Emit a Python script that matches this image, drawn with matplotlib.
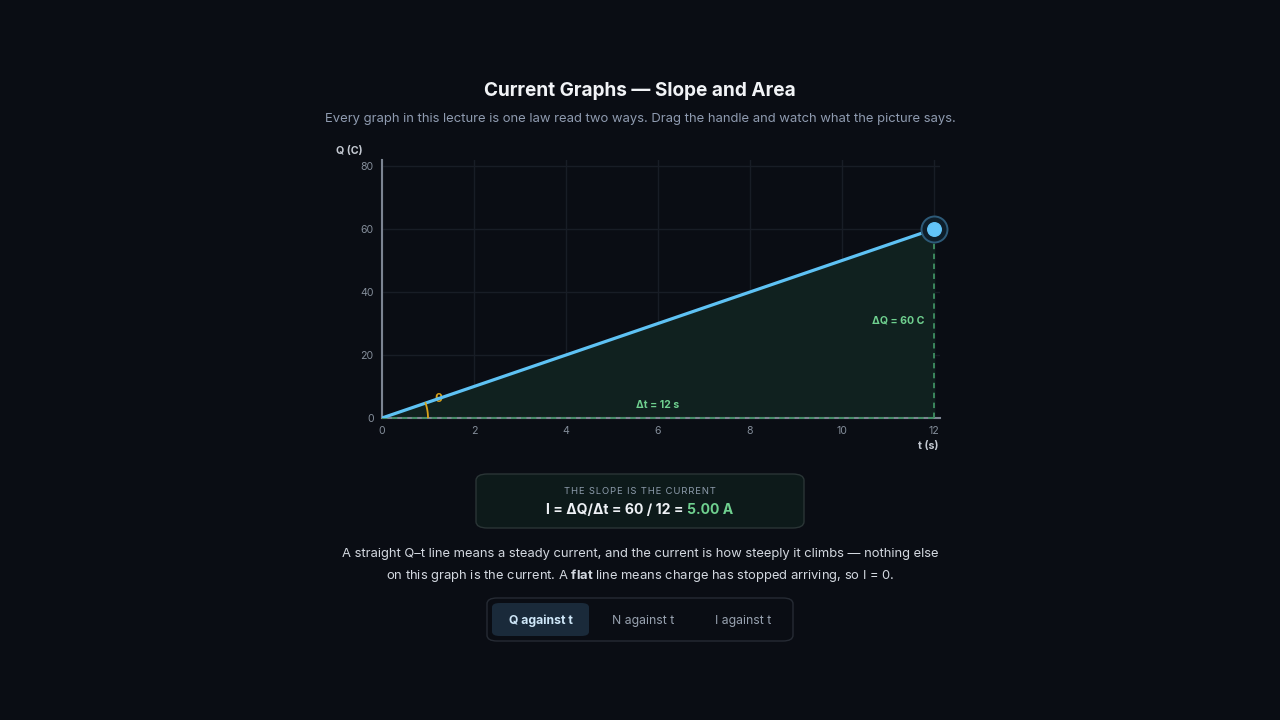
import matplotlib
matplotlib.use("Agg")
import matplotlib.pyplot as plt
from matplotlib.patches import FancyBboxPatch
import numpy as np

plt.rcParams['font.family'] = ['Inter', 'DejaVu Sans']
plt.rcParams['mathtext.fontset'] = 'custom'
plt.rcParams['mathtext.rm'] = 'Inter'
plt.rcParams['mathtext.bf'] = 'Inter:bold'

# ---- data ----
t_vals = [0, 12]
q_vals = [0, 60]
x_ticks = [0, 2, 4, 6, 8, 10, 12]
y_ticks = [0, 20, 40, 60, 80]
tabs = ["Q against t", "N against t", "I against t"]
title = "Current Graphs \u2014 Slope and Area"
subtitle = "Every graph in this lecture is one law read two ways. Drag the handle and watch what the picture says."

BG = "#0a0d14"
W, H = 1280, 720
fig = plt.figure(figsize=(12.8, 7.2), dpi=100, facecolor=BG)

def fx(x):
    return x / W
def fy(y):
    return 1 - y / H

# axes placement (pixels)
L, R, T, B = 382, 940, 160, 418
ax = fig.add_axes([fx(L), fy(B), (R - L) / W, (B - T) / H])
ax.set_facecolor(BG)
xpx = (934 - 382) / 12.0
ypx = (418 - 166) / 80.0
ax.set_xlim(0, (R - L) / xpx)
ax.set_ylim(0, (B - T) / ypx)

for s in ['top', 'right']:
    ax.spines[s].set_visible(False)
for s in ['left', 'bottom']:
    ax.spines[s].set_color('#7c8492')
    ax.spines[s].set_linewidth(1.5)

ax.set_xticks(x_ticks)
ax.set_yticks(y_ticks)
ax.tick_params(colors='#848d9a', labelsize=7.6, length=0, pad=6)
for lab in ax.get_xticklabels() + ax.get_yticklabels():
    lab.set_color('#848d9a')
ax.grid(True, color='#181d26', linewidth=1)
ax.set_axisbelow(True)

# fill under the line
ax.fill_between(t_vals, q_vals, 0, color='#10211f', alpha=1, zorder=1)
# dashed guides
ax.plot([t_vals[0], t_vals[-1]], [0, 0], ls=(0, (3, 2.5)), color='#3f8f62', lw=1.3, zorder=3, clip_on=False)
ax.plot([t_vals[-1], t_vals[-1]], [0, q_vals[-1]], ls=(0, (3, 2.5)), color='#3f8f62', lw=1.3, zorder=3)
# main line
ax.plot(t_vals, q_vals, color='#5ec2f4', lw=2.3, zorder=4, solid_capstyle='round')
# handle
ax.scatter([t_vals[-1]], [q_vals[-1]], s=350, facecolor='#0e1e2a', edgecolor='#2d5a78', linewidth=1.4, zorder=5, clip_on=False)
ax.scatter([t_vals[-1]], [q_vals[-1]], s=95, color='#62c4f8', zorder=6, clip_on=False)

# theta arc (pixel-space radius)
ang = np.arctan2(q_vals[-1] * ypx, t_vals[-1] * xpx)
r_px = 46
th = np.linspace(0, ang, 40)
ax.plot(r_px / xpx * np.cos(th), r_px / ypx * np.sin(th), color='#d9a31a', lw=1.3, zorder=5)
ax.text(fx(438), fy(399), "\u03b8", transform=fig.transFigure, color='#d9a31a', fontsize=9,
        ha='center', va='center', fontweight='bold')

# delta labels
ax.text(fx(658), fy(405), "\u0394t = 12 s", transform=fig.transFigure, color='#6fd08f', fontsize=7.5,
        fontweight='bold', ha='center', va='center')
ax.text(fx(924), fy(320), "\u0394Q = 60 C", transform=fig.transFigure, color='#6fd08f', fontsize=7.6,
        fontweight='bold', ha='right', va='center')

# axis labels
fig.text(fx(336), fy(151), "Q (C)", color='#c4c9d2', fontsize=7.7, fontweight='bold', ha='left', va='center')
fig.text(fx(938), fy(446), "t (s)", color='#c4c9d2', fontsize=7.7, fontweight='bold', ha='right', va='center')

# title / subtitle
fig.text(0.5, fy(96), title, color='#f1f3f6', fontsize=13.7, fontweight='bold', ha='center', va='baseline')
fig.text(0.5, fy(122), subtitle, color='#8f9bb0', fontsize=9.4, ha='center', va='baseline')

# slope box
box = FancyBboxPatch((fx(476), fy(528)), (804 - 476) / W, (528 - 474) / H,
                     boxstyle="round,pad=0,rounding_size=0.009", transform=fig.transFigure,
                     facecolor='#0d1a1a', edgecolor='#2a3536', linewidth=1)
fig.patches.append(box)
fig.text(0.5, fy(494.5), "\u200a".join("THE SLOPE IS THE CURRENT"),
         color='#8d9cac', fontsize=6.8, ha='center', va='baseline')

renderer = fig.canvas.get_renderer()

def text_width(txt, size, wt):
    def w(s):
        o = fig.text(0, 0, s, fontsize=size, fontweight=wt)
        bb = o.get_window_extent(renderer)
        o.remove()
        return bb.width
    return w("|" + txt + "|") - w("||")

def line_of_parts(parts, y, size, center=640):
    widths = [text_width(txt, size, wt) for txt, col, wt in parts]
    total = sum(widths)
    x = center - total / 2
    for (txt, col, wt), w in zip(parts, widths):
        fig.text(fx(x), fy(y), txt, color=col, fontsize=size, fontweight=wt, ha='left', va='baseline')
        x += w

line_of_parts([("I = \u0394Q/\u0394t = 60 / 12 = ", '#eef1f5', 'bold'),
               ("5.00 A", '#6fd08f', 'bold')], 514, 10.1)

fig.text(0.5, fy(557), "A straight Q\u2013t line means a steady current, and the current is how steeply it climbs \u2014 nothing else",
         color='#d3d8e0', fontsize=9.33, ha='center', va='baseline')
fig.text(0.5, fy(579), r"on this graph is the current. A $\mathbf{flat}$ line means charge has stopped arriving, so I = 0.",
         color='#d3d8e0', fontsize=9.33, ha='center', va='baseline')

# tabs
tabbox = FancyBboxPatch((fx(487), fy(641)), (793 - 487) / W, (641 - 598) / H,
                        boxstyle="round,pad=0,rounding_size=0.008", transform=fig.transFigure,
                        facecolor=BG, edgecolor='#262b34', linewidth=1)
fig.patches.append(tabbox)
active = FancyBboxPatch((fx(492), fy(636)), (589 - 492) / W, (636 - 603) / H,
                        boxstyle="round,pad=0,rounding_size=0.006", transform=fig.transFigure,
                        facecolor='#1a2a3a', edgecolor='none')
fig.patches.append(active)
tab_x = [541, 643, 743]
for i, (lab, x) in enumerate(zip(tabs, tab_x)):
    fig.text(fx(x), fy(624), lab, color='#cfe7f8' if i == 0 else '#98a2b0', fontsize=8.8,
             fontweight='bold' if i == 0 else 'normal', ha='center', va='baseline')

fig.savefig("out.png", dpi=100, facecolor=BG)
